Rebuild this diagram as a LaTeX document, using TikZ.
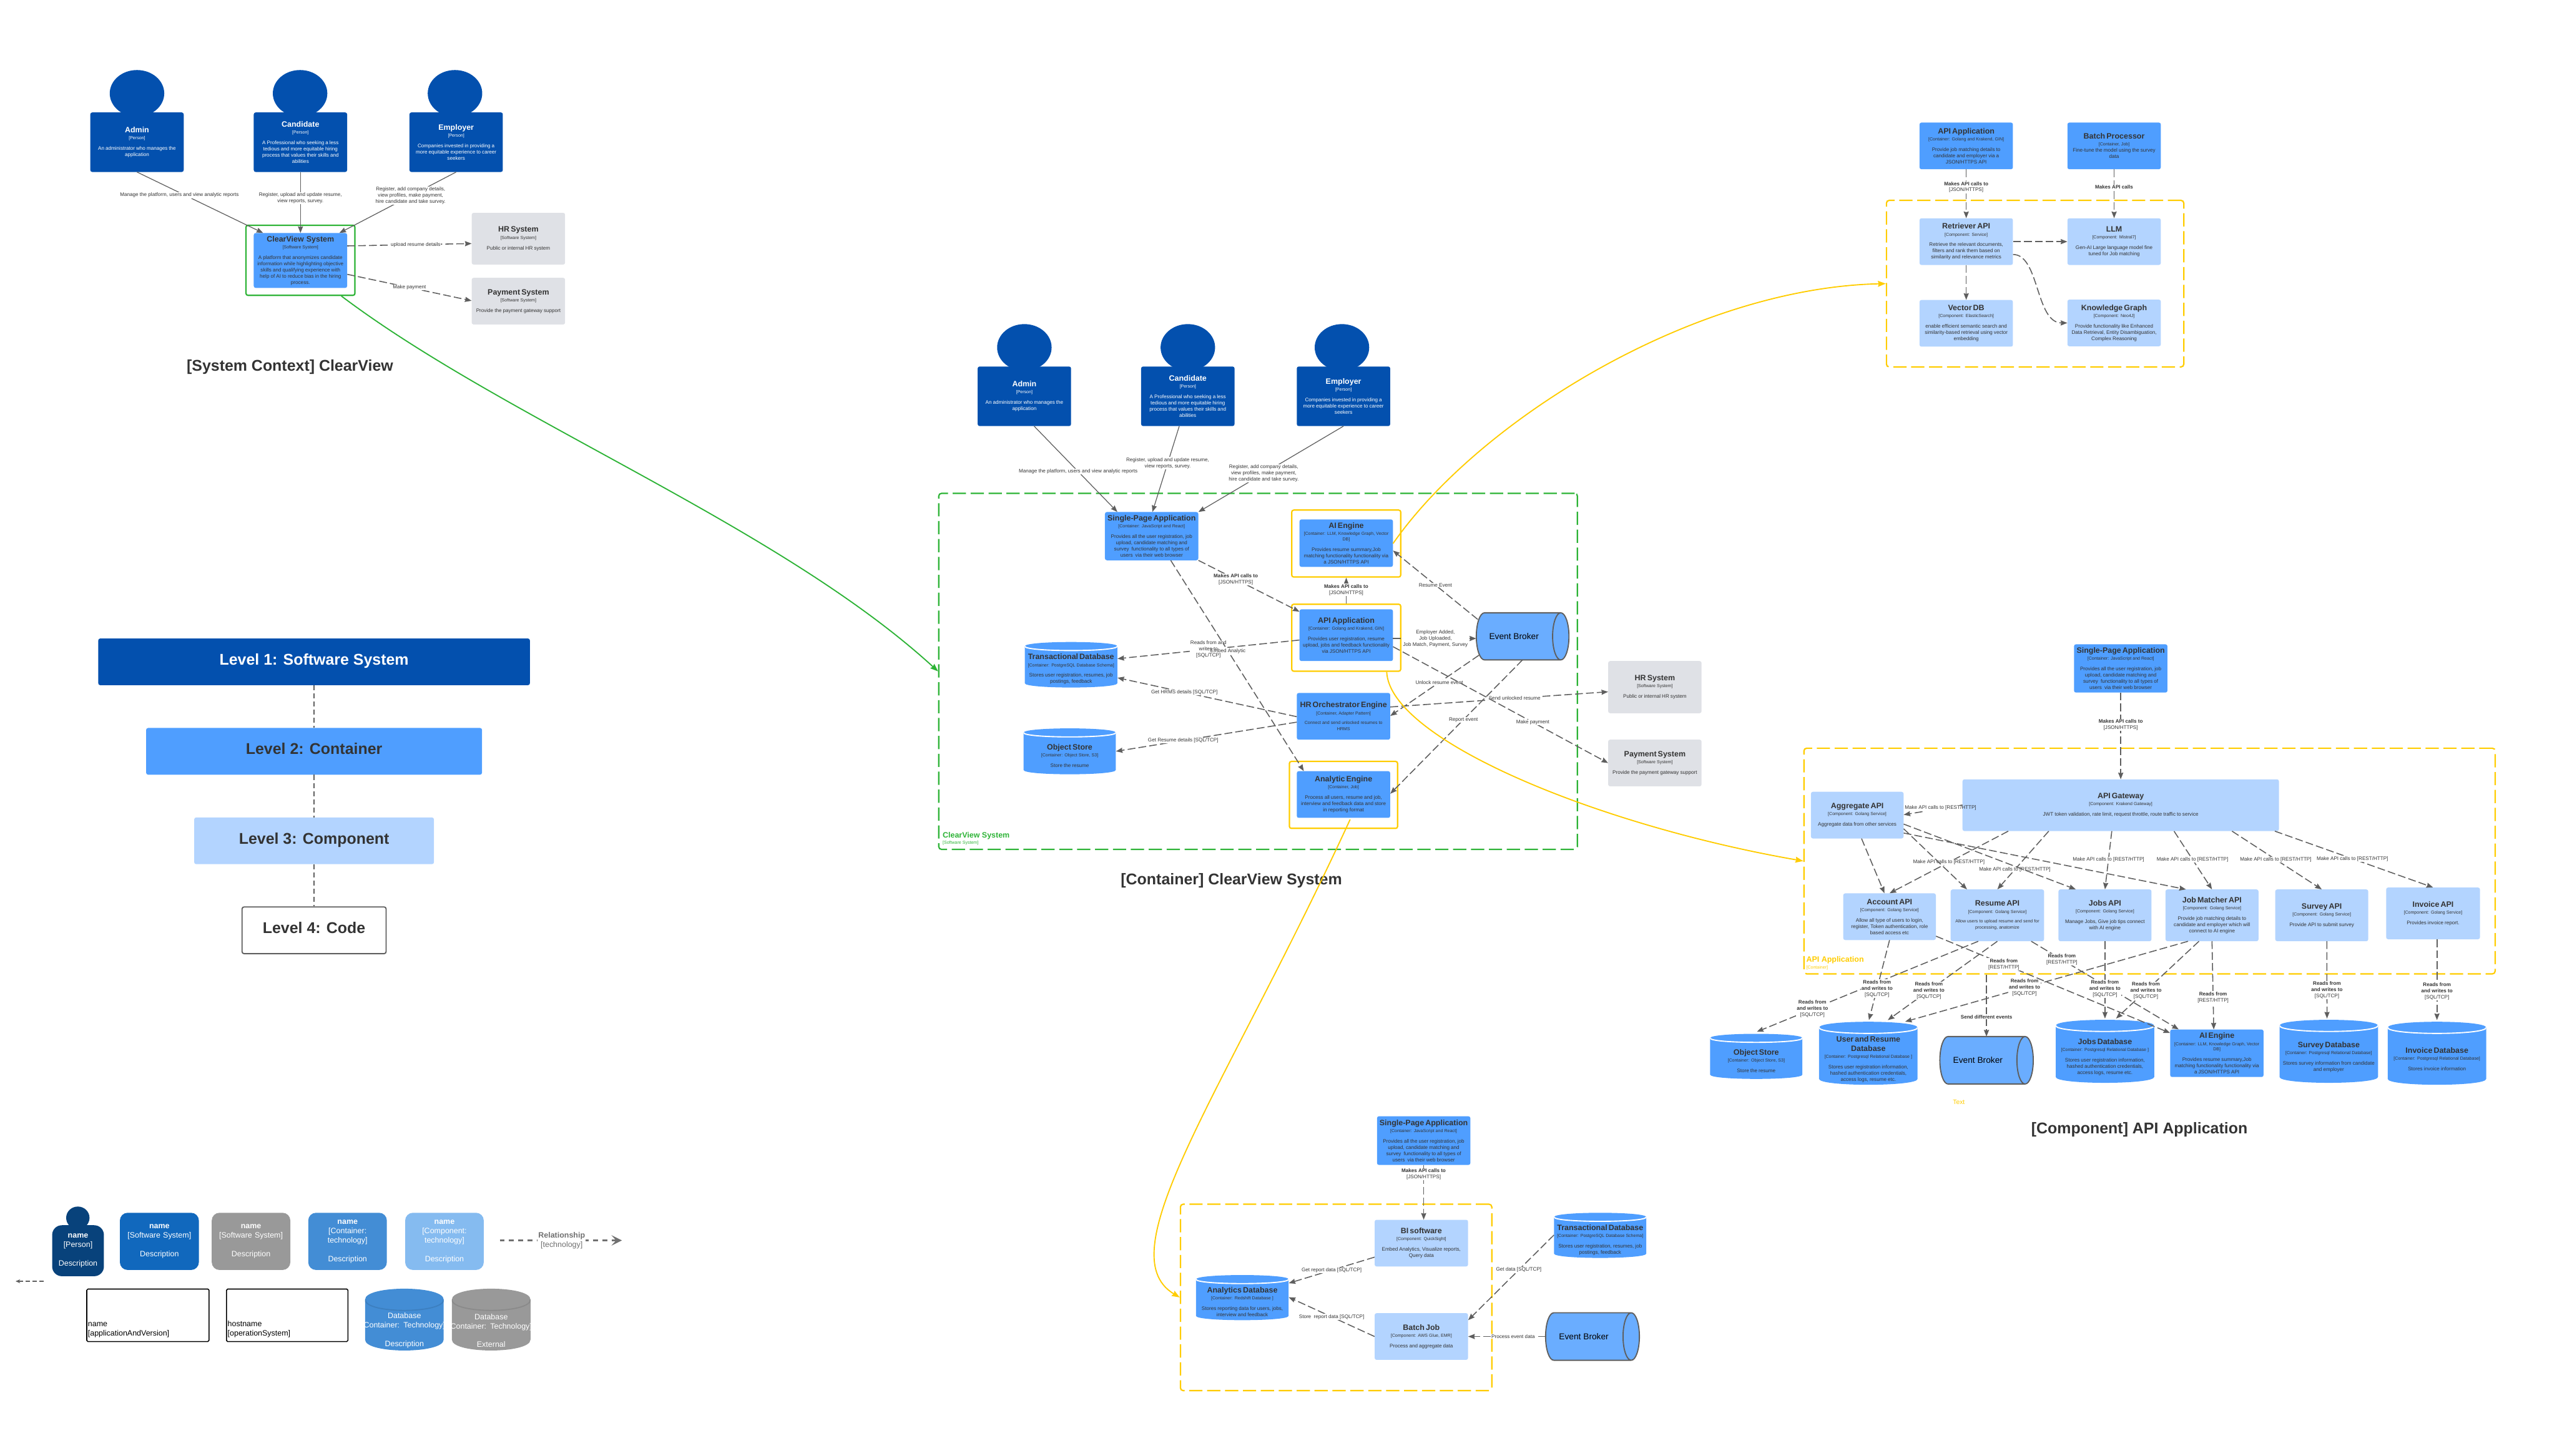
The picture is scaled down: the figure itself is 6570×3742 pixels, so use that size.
\documentclass[tikz,border=0pt]{standalone}
\usepackage{fontspec}
\setmainfont{Liberation Sans}
\usepackage{xcolor}
\usetikzlibrary{arrows.meta,calc,shapes.geometric}
\definecolor{cDark}{HTML}{0350AE}
\definecolor{cCon}{HTML}{4F9EFF}
\definecolor{cCmp}{HTML}{B3D4FF}
\definecolor{cExt}{HTML}{DFE1E6}
\definecolor{cText}{HTML}{333333}
\definecolor{cLine}{HTML}{5E5E5E}
\definecolor{cBroker}{HTML}{6AADFF}
\definecolor{cGreen}{HTML}{2DB336}
\definecolor{cYellow}{HTML}{FFCC00}
\definecolor{lgPerson}{HTML}{08427B}
\definecolor{lgSys}{HTML}{1168BD}
\definecolor{lgGray}{HTML}{999999}
\definecolor{lgGrayD}{HTML}{8A8A8A}
\definecolor{lgCon}{HTML}{438DD5}
\definecolor{lgConD}{HTML}{3C7FC0}
\definecolor{lgCmp}{HTML}{85BBF0}
\definecolor{lgLine}{HTML}{707070}
\newcommand{\fsTitle}{\fontsize{20}{24}\selectfont\bfseries}
\newcommand{\fsTech}{\fontsize{11.3}{14}\selectfont}
\newcommand{\fsDesc}{\fontsize{13}{16}\selectfont}
\newcommand{\fsLg}{\fontsize{20}{24}\selectfont}
\newcommand{\ppb}{path picture bounding box}
\newcommand{\cardbody}[4][11pt]{{\fsTitle #2\par}\vspace{4pt}{\fsTech #3\par}\vspace{#1}{\fsDesc #4\par}}
\newcommand{\lblApi}{\textbf{Makes API calls to}\\{[JSON/HTTPS]}}
\newcommand{\lblRw}{\textbf{Reads from}\\\textbf{and writes to}\\{[SQL/TCP]}}
\newcommand{\lblRest}{\textbf{Reads from}\\{[REST/HTTP]}}
\newcommand{\lblMake}{Make API calls to [REST/HTTP]}
\newcommand{\descSpa}{Provides all the user registration, job\\upload, candidate matching and\\survey\ \ functionality to all types of\\users\ \ via their web browser}
\newcommand{\descAi}{Provides resume summary,Job\\matching functionality functionality via\\a JSON/HTTPS API}
\newcommand{\descUser}{Stores user registration information,\\hashed authentication credentials,\\access logs, resume etc.}
\newcommand{\descTrans}{Stores user registration, resumes, job\\postings, feedback}
\tikzset{
  wh/.style 2 args={minimum width=#1pt,minimum height=#2pt,text width={#1pt-6pt}},
  s/.style={rectangle,rounded corners=5pt,inner ysep=0pt,inner xsep=3pt,align=center,text=cText},
  ps/.style={s,fill=cDark,text=white},
  cn/.style={s,fill=cCon},
  cmp/.style={s,fill=cCmp},
  ex/.style={s,fill=cExt},
  headshape/.style={ellipse,fill=cDark,minimum width=140pt,minimum height=120pt,inner sep=0pt},
  gf/.style={rectangle,rounded corners=7pt,draw=cGreen,line width=3.5pt,dash pattern=on 34pt off 12pt},
  yf/.style={rectangle,rounded corners=7pt,draw=cYellow,line width=3.5pt,dash pattern=on 34pt off 12pt},
  ys/.style={rectangle,rounded corners=5pt,draw=#1,line width=3.5pt,fill=white},
  fw/.style 2 args={minimum width=#1pt,minimum height=#2pt,inner sep=0pt},
  ar/.style={-{Stealth[length=17pt,width=13pt,inset=1.5pt]},draw=cLine,line width=2pt},
  ard/.style={ar,line width=2.5pt,dash pattern=on 20pt off 8pt},
  segd/.style={draw=cLine,line width=2.5pt,dash pattern=on 20pt off 8pt},
  cu/.style={-{Stealth[length=20pt,width=15pt,inset=2pt]},draw=#1,line width=3pt},
  lbl/.style={font=\fsDesc,fill=white,inner sep=1.5pt,align=center,text=cText},
  lbn/.style={lbl,fill=none},
  ttl/.style={font=\fontsize{40}{48}\selectfont\bfseries,text=cText,inner sep=0pt},
  eb/.style 2 args={cylinder,shape aspect=2.6,draw=cLine,line width=3pt,fill=cBroker,minimum height=#1pt,minimum width=#2pt,inner sep=0pt,text=black,font=\fontsize{22}{26}\selectfont,execute at begin node={\hspace*{-22pt}}},
  db/.style n args={3}{rectangle,inner ysep=0pt,inner xsep=3pt,text=cText,align=center,
    execute at begin node={\rule{0pt}{\dimexpr #1pt*2+15pt\relax}},
    path picture={
      \fill[#2] ([yshift=-#1pt]\ppb.north west) .. controls ([yshift=.33*#1pt]\ppb.north west) and ([yshift=.33*#1pt]\ppb.north east) .. ([yshift=-#1pt]\ppb.north east) -- ([yshift=#1pt]\ppb.south east) .. controls ([yshift=-.33*#1pt]\ppb.south east) and ([yshift=-.33*#1pt]\ppb.south west) .. ([yshift=#1pt]\ppb.south west) -- cycle;
      \draw[#3,line width=3pt] ([yshift=-#1pt]\ppb.north west) .. controls ([yshift=-2.33*#1pt]\ppb.north west) and ([yshift=-2.33*#1pt]\ppb.north east) .. ([yshift=-#1pt]\ppb.north east);
    }},
  lg/.style={rectangle,rounded corners=20pt,inner ysep=0pt,inner xsep=3pt,align=center,text=white,fill=#1,font=\fsLg},
  hostbox/.style={rectangle,draw=black,line width=2.5pt,rounded corners=3pt,fill=white,inner ysep=0pt,inner xsep=3pt,align=left,text=black,font=\fsLg,execute at begin node={\rule{0pt}{87pt}}},
  lv/.style={s,font=\fontsize{40}{48}\selectfont\bfseries,minimum height=120pt,text height=30pt,text depth=14pt},
  lvd/.style={draw=cLine,line width=2.5pt,dash pattern=on 13pt off 8pt}
}
\begin{document}
\begin{tikzpicture}[x=1pt,y=-1pt]
\path[use as bounding box] (0,0) rectangle (6570,3742);

\node[headshape] (ctxAdminH) at (352,240) {};
\node[headshape] (ctxCandidateH) at (771,240) {};
\node[headshape] (ctxEmployerH) at (1169,240) {};
\node[ps,wh={240}{153}] (ctxAdmin) at (352,365.5) {\cardbody{Admin}{[Person]}{An administrator who manages the\\application}};
\node[ps,wh={240}{153}] (ctxCandidate) at (772,365.5) {\cardbody{Candidate}{[Person]}{A Professional who seeking a less\\tedious and more equitable hiring\\process that values their skills and\\abilities}};
\node[ps,wh={240}{153}] (ctxEmployer) at (1172,365.5) {\cardbody{Employer}{[Person]}{Companies invested in providing a\\more equitable experience to career\\seekers}};
\node[ys=cGreen,fw={280}{180}] (ctxFrame) at (772,669) {};
\node[cn,wh={240}{141}] (ctxSystem) at (772,669.5) {\cardbody{ClearView\ \ System}{[Software System]}{A platform that anonymizes candidate\\information while highlighting objective\\skills and qualifying experience with\\help of AI to reduce bias in the hiring\\process.}};
\node[ex,wh={240}{133}] (ctxHr) at (1332,613.5) {\cardbody{HR System}{[Software System]}{Public or internal HR system}};
\node[ex,wh={240}{120}] (ctxPay) at (1332,774) {\cardbody{Payment System}{[Software System]}{Provide the payment gateway support}};
\draw[ar] (ctxAdmin.south) -- node[lbl,pos=.38,xshift=-14pt]{Manage the platform, users and view analytic reports} ([xshift=-96]ctxSystem.north);
\draw[ar] (ctxCandidate.south) -- node[lbl,pos=.43]{Register, upload and update resume,\\view reports, survey.} (ctxSystem.north);
\draw[ar] (ctxEmployer.south) -- node[lbl,pos=.39]{Register, add company details,\\view profiles, make payment,\\hire candidate and take survey.} ([xshift=100]ctxSystem.north);
\draw[ard] ([yshift=37.5]ctxSystem.east) -- node[lbl,pos=.55]{upload resume details} ([yshift=-12.5]ctxHr.west);
\draw[ard] ([yshift=-35.5]ctxSystem.east) -- node[lbl,pos=.5]{Make payment} ([yshift=1]ctxPay.west);
\node[ttl] (ctxTitle) at (745,944) {[System Context] ClearView};

\node[lv,fill=cDark,text=white,minimum width=1109pt] (lvlOne) at (807,1701) {Level 1: Software System};
\node[lv,fill=cCon,minimum width=863pt] (lvlTwo) at (807,1931) {Level 2: Container};
\node[lv,fill=cCmp,minimum width=616pt] (lvlThree) at (807,2161) {Level 3: Component};
\node[lv,draw=cLine,line width=3pt,minimum width=370pt] (lvlFour) at (807,2391) {Level 4: Code};
\draw[lvd] (lvlOne.south) -- (lvlTwo.north);
\draw[lvd] (lvlTwo.south) -- (lvlThree.north);
\draw[lvd] (lvlThree.south) -- (lvlFour.north);

\node[gf,fw={1641}{915}] (conFrame) at (3232.5,1725.5) {};
\node[anchor=west,text=cGreen,inner sep=0pt,font=\fsTitle] (conFrameName) at (2422,2148) {ClearView System};
\node[anchor=west,text=cGreen,inner sep=0pt,font=\fsTech] (conFrameTech) at (2422,2167) {[Software System]};
\node[headshape] (conAdminH) at (2632,893) {};
\node[headshape] (conCandidateH) at (3052,893) {};
\node[headshape] (conEmployerH) at (3448,893) {};
\node[ps,wh={240}{153}] (conAdmin) at (2632,1018.5) {\cardbody{Admin}{[Person]}{An administrator who manages the\\application}};
\node[ps,wh={240}{153}] (conCandidate) at (3052,1018.5) {\cardbody{Candidate}{[Person]}{A Professional who seeking a less\\tedious and more equitable hiring\\process that values their skills and\\abilities}};
\node[ps,wh={240}{153}] (conEmployer) at (3452,1018.5) {\cardbody{Employer}{[Person]}{Companies invested in providing a\\more equitable experience to career\\seekers}};
\node[cn,wh={240}{124}] (conSpa) at (2959,1378) {\cardbody{Single-Page Application}{[Container: JavaScript and React]}{\descSpa}};
\node[ys=cYellow,fw={280}{172}] (conAiFrame) at (3459,1397) {};
\node[cn,wh={240}{122}] (conAi) at (3459,1396) {\cardbody{AI Engine}{[Container: LLM, Knowledge Graph, Vector\\DB]}{\descAi}};
\node[ys=cYellow,fw={280}{172}] (conApiFrame) at (3459,1639) {};
\node[cn,wh={240}{133}] (conApi) at (3459,1632.5) {\cardbody{API Application}{[Container: Golang and Krakend, GIN]}{Provides user registration, resume\\upload, jobs and feedback functionality\\via JSON/HTTPS API}};
\node[eb={238}{121}] (conBroker) at (3901,1635.5) {Event Broker};
\node[cn,wh={240}{120}] (conHrEng) at (3452,1841) {\cardbody{HR Orchestrator Engine}{[Container, Adapter Pattern]}{{\fsTech Connect and send unlocked resumes to\\HRMS}}};
\node[ys=cYellow,fw={278}{172}] (conAnaFrame) at (3452,2043) {};
\node[cn,wh={240}{120}] (conAna) at (3452,2042) {\cardbody{Analytic Engine}{[Container, Job]}{Process all users, resume and job,\\interview and feedback data and store\\in reporting format}};
\node[db={11}{cCon}{white},wh={238}{117}] (conTrans) at (2752,1708.5) {\cardbody{Transactional Database}{[Container: PostgreSQL Database Schema]}{\descTrans}};
\node[db={11}{cCon}{white},wh={237}{118}] (conObj) at (2748.5,1931) {\cardbody{Object Store}{[Container: Object Store, S3]}{Store the resume}};
\node[ex,wh={240}{134}] (conHr) at (4252,1766) {\cardbody{HR System}{[Software System]}{Public or internal HR system}};
\node[ex,wh={240}{120}] (conPay) at (4252,1961) {\cardbody{Payment System}{[Software System]}{Provide the payment gateway support}};
\draw[ar] ([xshift=25]conAdmin.south) -- node[lbl,pos=.53]{Manage the platform, users and view analytic reports} ([xshift=-88]conSpa.north);
\draw[ar] ([xshift=-22]conCandidate.south) -- node[lbl,pos=.43]{Register, upload and update resume,\\view reports, survey.} ([xshift=2]conSpa.north);
\draw[ar] (conEmployer.south) -- node[lbl,pos=.55]{Register, add company details,\\view profiles, make payment,\\hire candidate and take survey.} (conSpa.north east);
\draw[ard] (conSpa.south east) -- node[lbl,pos=.37]{\lblApi} ([yshift=60.5]conApi.west);
\draw[ard] (conApiFrame.north) -- node[lbl,pos=.53]{\lblApi} (conAiFrame.south);
\draw[ard] ([xshift=-104,yshift=43.5]conBroker.center) -- node[lbl,pos=.5]{Resume Event} ([yshift=-19]conAi.east);
\draw[ard] ([yshift=-8.5]conApi.east) -- node[lbl,pos=.51]{Employer Added,\\Job Uploaded,\\Job Match, Payment, Survey} ([xshift=-108,yshift=-5.5]conBroker.center);
\draw[ard] ([yshift=-12.5]conApi.west) -- node[lbl,pos=.5]{Reads from and\\writes to\\{[SQL/TCP]}} ([yshift=15.5]conTrans.east);
\coordinate (embA) at ([xshift=49]conSpa.south);
\coordinate (embB) at ([xshift=-102]conAna.north);
\draw[segd] (embA) -- ($(embA)!.41!(embB)$);
\draw[ard] ($(embA)!.45!(embB)$) -- (embB);
\node[lbn] (embLbl) at ($(embA)!.43!(embB)$) {Embed Analytic};
\draw[ard] ([yshift=-1]conHrEng.west) -- node[lbl,pos=.627]{Get HRMS details [SQL/TCP]} ([yshift=-33.5]conTrans.east);
\draw[ard] ([yshift=-15]conHrEng.west) -- node[lbl,pos=.628]{Get Resume details [SQL/TCP]} (conObj.east);
\draw[ard] ([xshift=-101,yshift=-48.5]conBroker.center) -- node[lbl,pos=.447]{Unlock resume event} ([yshift=1]conHrEng.east);
\draw[ard] ([yshift=24]conHrEng.east) -- node[lbl,pos=.571]{Send unlocked resume} ([yshift=-12]conHr.west);
\draw[ard] ([yshift=-29.5]conApi.east) -- node[lbl,pos=.65]{Make payment} (conPay.west);
\draw[ard] ([xshift=11,yshift=-60.5]conBroker.center) -- node[lbl,pos=.447]{Report event} ([yshift=2]conAna.east);
\node[ttl] (conTitle) at (3164,2264) {[Container] ClearView System};

\node[yf,fw={764}{428}] (cmpFrame) at (5229,729) {};
\node[cn,wh={240}{120}] (cmpApi) at (5052,375) {\cardbody{API Application}{[Container: Golang and Krakend, GIN]}{Provide job matching details to\\candidate and employer via a\\JSON/HTTPS API}};
\node[cn,wh={240}{120}] (cmpBatch) at (5432,375) {\cardbody[0pt]{Batch Processor}{[Container, Job]}{Fine-tune the model using the survey\\data}};
\node[cmp,wh={240}{120}] (cmpRet) at (5052,621) {\cardbody{Retriever API}{[Component: Service]}{Retrieve the relevant documents,\\filters and rank them based on\\similarity and relevance metrics}};
\node[cmp,wh={240}{120}] (cmpLlm) at (5432,621) {\cardbody{LLM}{[Component: Mistral7]}{Gen-AI Large language model fine\\tuned for Job matching}};
\node[cmp,wh={240}{120}] (cmpVec) at (5052,831) {\cardbody{Vector DB}{[Component: ElasticSearch]}{enable efficient semantic search and\\similarity-based retrieval using vector\\embedding}};
\node[cmp,wh={240}{120}] (cmpKg) at (5432,830) {\cardbody{Knowledge Graph}{[Component: Neo4J]}{Provide functionality like Enhanced\\Data Retrieval, Entity Disambiguation,\\Complex Reasoning}};
\draw[ard] (cmpApi.south) -- node[lbl,pos=.365]{\lblApi} (cmpRet.north);
\draw[ard] (cmpBatch.south) -- node[lbl,pos=.365]{\textbf{Makes API calls}} (cmpLlm.north);
\draw[ard] (cmpRet.east) -- (cmpLlm.west);
\draw[ard] (cmpRet.south) -- (cmpVec.north);
\draw[ard] ([yshift=-33]cmpRet.east) .. controls ([xshift=68,yshift=-33]cmpRet.east) and ([xshift=-82]cmpKg.west) .. (cmpKg.west);

\node[yf,fw={1776}{580}] (appFrame) at (5523,2213) {};
\node[anchor=west,text=cYellow,inner sep=0pt,font=\fsTitle] (appFrameName) at (4641,2467) {API Application};
\node[anchor=west,text=cYellow,inner sep=0pt,font=\fsTech] (appFrameTech) at (4641,2487) {[Container]};
\node[cn,wh={240}{124}] (appSpa) at (5449,1718) {\cardbody{Single-Page Application}{[Container: JavaScript and React]}{\descSpa}};
\node[cmp,wh={813}{133}] (appGateway) at (5449,2069.5) {\cardbody{API Gateway}{[Component: Krakend Gateway]}{JWT token validation, rate limit, request throttle, route traffic to service}};
\node[cmp,wh={238}{120}] (appAgg) at (4772,2095) {\cardbody{Aggregate API}{[Component: Golang Service]}{Aggregate data from other services}};
\node[cmp,wh={238}{120}] (appAccount) at (4855,2356) {\cardbody{Account API}{[Component: Golang Service]}{Allow all type of users to login,\\register, Token authentication, role\\based access etc}};
\node[cmp,wh={240}{133}] (appResume) at (5132,2352.5) {\cardbody{Resume API}{[Component: Golang Service]}{{\fsTech Allow users to upload resume and send for\\processing, anatomize}}};
\node[cmp,wh={239}{133}] (appJobs) at (5408.5,2352.5) {\cardbody{Jobs API}{[Component: Golang Service]}{Manage Jobs, Give job tips connect\\with AI engine}};
\node[cmp,wh={239}{133}] (appMatcher) at (5683.5,2352.5) {\cardbody{Job Matcher API}{[Component: Golang Service]}{Provide job matching details to\\candidate and employer which will\\connect to AI engine}};
\node[cmp,wh={239}{133}] (appSurvey) at (5965.5,2352.5) {\cardbody{Survey API}{[Component: Golang Service]}{Provide API to submit survey}};
\node[cmp,wh={241}{133}] (appInvoice) at (6251.5,2347.5) {\cardbody{Invoice API}{[Component: Golang Service]}{Provides invoice report.}};
\node[db={11}{cCon}{white},wh={237}{116}] (appObj) at (4512.5,2715) {\cardbody{Object Store}{[Container: Object Store, S3]}{Store the resume}};
\node[db={15}{cCon}{white},wh={253}{162}] (appUser) at (4800.5,2707) {\cardbody{User and Resume\\Database}{[Container: Postgresql Relational Database ]}{\descUser}};
\node[eb={240}{122}] (appBroker) at (5093,2725) {Event Broker};
\node[db={15}{cCon}{white},wh={253}{162}] (appJobsDb) at (5408.5,2702) {\cardbody{Jobs Database}{[Container: Postgresql Relational Database ]}{\descUser}};
\node[cn,wh={240}{122}] (appAi) at (5696,2707) {\cardbody{AI Engine}{[Container: LLM, Knowledge Graph, Vector\\DB]}{\descAi}};
\node[db={15}{cCon}{white},wh={253}{162}] (appSurveyDb) at (5983.5,2702) {\cardbody{Survey Database}{[Container: Postgresql Relational Database]}{Stores survey information from candidate\\and employer}};
\node[db={15}{cCon}{white},wh={253}{162}] (appInvoiceDb) at (6261.5,2707) {\cardbody{Invoice Database}{[Container: Postgresql Relational Database]}{Stores invoice information}};
\node[text=cYellow,inner sep=0pt,font=\fontsize{16.5}{20}\selectfont] (appStray) at (5033,2833) {Text};
\draw[ard] (appSpa.south) -- node[lbl,pos=.37]{\lblApi} (appGateway.north);
\coordinate (gwA) at ([yshift=.5]appGateway.west);
\coordinate (gwB) at ([yshift=1]appAgg.east);
\draw[segd] (gwA) -- ($(gwA)!.05!(gwB)$);
\draw[ard] ($(gwA)!.68!(gwB)$) -- (gwB);
\node[lbn] (gwLbl) at (4986,2077) {\lblMake};
\draw[ard] ([xshift=-289]appGateway.south) -- node[lbl,pos=.5]{\lblMake} (appAccount.north);
\draw[ard] ([xshift=-185]appGateway.south) -- node[lbl,pos=.66]{\lblMake} (appResume.north);
\draw[ard] ([xshift=-23]appGateway.south) -- node[lbl,pos=.487]{\lblMake} (appJobs.north);
\draw[ard] ([xshift=137]appGateway.south) -- node[lbl,pos=.487]{\lblMake} (appMatcher.north);
\draw[ard] ([xshift=286]appGateway.south) -- node[lbl,pos=.487]{\lblMake} (appSurvey.north);
\draw[ard] ([xshift=396]appGateway.south) -- node[lbl,pos=.49]{\lblMake} (appInvoice.north);
\draw[ard] ([xshift=11]appAgg.south) -- ([xshift=-13]appAccount.north);
\draw[ard] ([yshift=-35]appAgg.east) -- ([xshift=-78]appResume.north);
\draw[ard] ([yshift=-23]appAgg.east) -- ([xshift=-75]appJobs.north);
\draw[ard] ([yshift=-46]appAgg.east) -- ([xshift=-67]appMatcher.north);
\draw[ard] ([xshift=-49]appResume.south) -- node[lbl,pos=.749]{\lblRw} ([xshift=1.5,yshift=5]appObj.north);
\draw[ard] (appAccount.south) -- node[lbl,pos=.607]{\lblRw} ([xshift=1.5,yshift=4]appUser.north);
\draw[ard] (appResume.south) -- node[lbl,pos=.625]{\lblRw} ([xshift=50,yshift=4]appUser.north);
\draw[ard] ([xshift=-61.5]appMatcher.south) -- node[lbl,pos=.578]{\lblRw} ([xshift=94.5]appUser.north);
\draw[ard] ([yshift=-50]appAccount.east) -- node[lbl,pos=.29]{\lblRest} ([yshift=52]appAi.west);
\draw[ard] ([xshift=87]appResume.south) -- node[lbl,pos=.208]{\lblRest} ([xshift=-98]appAi.north);
\draw[ard] (appJobs.south) -- node[lbl,pos=.618]{\lblRw} ([yshift=3]appJobsDb.north);
\draw[ard] ([xshift=-33.5]appMatcher.south) -- node[lbl,pos=.64]{\lblRw} ([xshift=28.5,yshift=3]appJobsDb.north);
\draw[ard] (appMatcher.south) -- node[lbl,pos=.635]{\lblRest} ([xshift=-8]appAi.north);
\draw[ard] ([xshift=13]appSurvey.south) -- node[lbl,pos=.63]{\lblRw} ([xshift=-4.5,yshift=3]appSurveyDb.north);
\draw[ard] ([xshift=10]appInvoice.south) -- node[lbl,pos=.64]{\lblRw} ([yshift=4]appInvoiceDb.north);
\draw[ard] ([xshift=11]appBroker.center |- appFrame.south) -- node[lbl,pos=.683]{\textbf{Send different events}} ([xshift=11,yshift=61]appBroker.center);
\node[ttl] (appTitle) at (5497,2903) {[Component] API Application};

\node[yf,fw={800}{479}] (repFrame) at (3433,3334.5) {};
\node[cn,wh={240}{125}] (repSpa) at (3658,2931.5) {\cardbody{Single-Page Application}{[Container: JavaScript and React]}{\descSpa}};
\node[cmp,wh={240}{120}] (repBi) at (3652,3195) {\cardbody{BI software}{[Component: QuickSight]}{Embed Analytics, Visualize reports,\\Query data}};
\node[cmp,wh={240}{120}] (repBatch) at (3652,3435) {\cardbody{Batch Job}{[Component: AWS Glue, EMR]}{Process and aggregate data}};
\node[db={11}{cCon}{white},wh={238}{116}] (repAna) at (3192,3335) {\cardbody{Analytics Database}{[Container: Redshift Database ]}{Stores reporting data for users, jobs,\\interview and feedback}};
\node[db={11}{cCon}{white},wh={237}{116}] (repTrans) at (4111.5,3175) {\cardbody{Transactional Database}{[Container: PostgreSQL Database Schema]}{\descTrans}};
\node[eb={241}{122}] (repBroker) at (4080.5,3435) {Event Broker};
\draw[ard] (repSpa.south) -- node[lbl,pos=.17]{\lblApi} ([xshift=6]repBi.north);
\draw[ard] ([yshift=-36]repBi.west) -- node[lbl,pos=.5]{Get report data [SQL/TCP]} ([yshift=37]repAna.east);
\draw[ard] (repBatch.west) -- node[lbl,pos=.5]{Store\ \ report data [SQL/TCP]} ([yshift=1]repAna.east);
\draw[ard] ([yshift=1]repTrans.west) -- node[lbl,pos=.41]{Get data [SQL/TCP]} ([yshift=42]repBatch.east);
\draw[ard] ([xshift=-109]repBroker.center) -- node[lbl,pos=.42]{Process event data} (repBatch.east);

\draw[cu=cGreen] ([xshift=105]ctxFrame.south) .. controls (1300,1080) and (2000,1350) .. (conFrame.west);
\draw[cu=cYellow] ([yshift=-1]conAi.east) .. controls (3800,1080) and (4350,740) .. (cmpFrame.west);
\draw[cu=cYellow] ([xshift=104]conApiFrame.south) .. controls (3570,1900) and (4100,2120) .. (appFrame.west);
\draw[cu=cYellow] ([xshift=17,yshift=-4]conAna.south) .. controls (3150,2800) and (2840,3220) .. (repFrame.west);

\node[ellipse,fill=lgPerson,minimum width=60pt,minimum height=58pt,inner sep=0pt] (lgHead) at (200,3130) {};
\node[lg=lgPerson,rounded corners=25pt,wh={133}{131}] (lgMan) at (200.5,3214.5) {\textbf{name}\\{[Person]}\\[24pt]Description};
\node[lg=lgSys,wh={203}{147}] (lgSoft) at (409.5,3190.5) {\textbf{name}\\{[Software System]}\\[24pt]Description};
\node[lg=lgGray,wh={202}{147}] (lgExtern) at (645,3190.5) {\textbf{name}\\{[Software System]}\\[24pt]Description};
\node[lg=lgCon,wh={202}{147}] (lgCont) at (893,3190.5) {\textbf{name}\\{[Container:}\\technology]\\[24pt]Description};
\node[lg=lgCmp,wh={202}{147}] (lgComp) at (1142,3190.5) {\textbf{name}\\{[Component:}\\technology]\\[24pt]Description};
\coordinate (lgRelA) at (1284,3188);
\coordinate (lgRelB) at (1598,3188);
\draw[-{Stealth[length=27pt,width=27pt,inset=12pt]},draw=lgLine,line width=4pt,dash pattern=on 12pt off 12pt] (lgRelA) -- node[lbl,font=\fsLg,text=lgLine,pos=.507]{\textbf{Relationship}\\{[technology]}} (lgRelB);
\coordinate (lgStrayA) at (113,3293);
\coordinate (lgStrayB) at (40,3293);
\draw[-{Stealth[length=12pt,width=10pt]},draw=cLine,line width=2pt,dash pattern=on 12pt off 6pt] (lgStrayA) -- (lgStrayB);
\node[hostbox,wh={314}{135}] (lgApp) at (380,3380.5) {name\\{[applicationAndVersion]}};
\node[hostbox,wh={312}{135}] (lgHost) at (738,3380.5) {hostname\\{[operationSystem]}};
\node[db={28}{lgCon}{lgConD},text=white,font=\fsLg,wh={202}{159}] (lgDbOne) at (1039,3391.5) {Database\\\makebox[0pt]{Container: Technology]}\\[24pt]Description};
\node[db={28}{lgGray}{lgGrayD},text=white,font=\fsLg,wh={202}{159}] (lgDbTwo) at (1262,3391.5) {Database\\\makebox[0pt]{Container: Technology]}\\[24pt]External};
\end{tikzpicture}
\end{document}
